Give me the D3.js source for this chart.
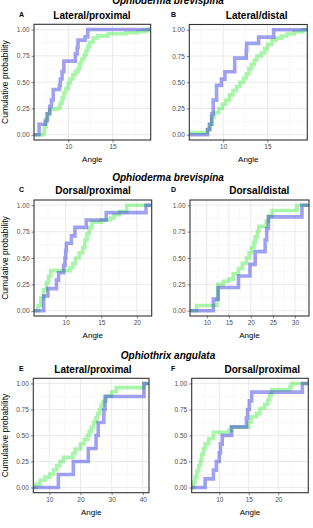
<!DOCTYPE html>
<html>
<head>
<meta charset="utf-8">
<script src="https://cdn.jsdelivr.net/npm/d3@7"></script>
<style>
  body { margin: 0; background: #fff; }
  text { font-family: "Liberation Sans", Arial, sans-serif; }
</style>
</head>
<body>
<div id="chart-area"></div>
<script>
// ---- data ----
var panelIds = ["A", "B", "C", "D", "E", "F"];
var panelTitles = ["Lateral/proximal", "Lateral/distal", "Dorsal/proximal", "Dorsal/distal", "Lateral/proximal", "Dorsal/proximal"];
var speciesTitles = ["Ophioderma brevispina", "Ophioderma brevispina", "Ophiothrix angulata"];
var xDomains = [[6.13, 19.3], [6.17, 19.5], [5.54, 22.1], [6.2, 33.2], [4.85, 42], [5.32, 25.1]];
var xTicks = [[10, 15], [10, 15], [10, 15, 20], [10, 15, 20, 25, 30], [10, 20, 30, 40], [10, 15, 20]];
var yTicks = [0, 0.25, 0.5, 0.75, 1];

// ECDF steps: [angle, cumulative probability]
var greenA = [[6.13,0],[7.2,0.02],[7.3,0.08],[7.5,0.15],[7.7,0.2],[7.9,0.24],[8.6,0.25],[9.0,0.27],[9.1,0.3],[9.3,0.35],[9.5,0.4],[9.7,0.44],[10.0,0.49],[10.2,0.53],[10.5,0.57],[10.8,0.6],[11.1,0.63],[11.3,0.68],[11.5,0.72],[11.8,0.76],[12.0,0.8],[12.2,0.84],[12.4,0.88],[12.8,0.92],[13.3,0.94],[14.5,0.96],[16.5,0.97],[17.8,0.98],[18.6,0.99],[19.0,1.0]];
var blueA = [[6.13,0],[6.7,0.1],[7.4,0.13],[7.6,0.2],[7.9,0.27],[8.1,0.33],[8.3,0.43],[9.0,0.47],[9.1,0.53],[9.3,0.6],[9.5,0.7],[10.8,0.77],[11.0,0.83],[11.1,0.9],[11.9,0.93],[12.2,1.0]];
var greenB = [[6.17,0.02],[8.2,0.05],[8.4,0.1],[8.7,0.17],[9.0,0.21],[9.5,0.25],[9.9,0.29],[10.3,0.33],[10.7,0.38],[11.1,0.42],[11.5,0.46],[11.9,0.5],[12.3,0.54],[12.6,0.58],[12.9,0.63],[13.2,0.67],[13.5,0.71],[13.8,0.75],[14.3,0.78],[14.7,0.82],[15.0,0.86],[15.5,0.9],[16.0,0.92],[16.6,0.94],[17.2,0.96],[18.0,0.98],[19.0,1.0]];
var blueB = [[6.17,0],[8.24,0.05],[8.5,0.1],[8.7,0.2],[8.87,0.33],[9.25,0.47],[9.8,0.53],[10.2,0.6],[11.3,0.73],[12.6,0.8],[12.65,0.87],[14.0,0.93],[15.7,1.0]];
var greenC = [[5.54,0],[6.1,0.05],[6.5,0.12],[6.9,0.2],[7.3,0.27],[7.6,0.33],[7.9,0.38],[10.6,0.41],[11.0,0.45],[11.4,0.5],[11.9,0.55],[12.4,0.6],[12.7,0.67],[13.0,0.73],[13.3,0.79],[13.7,0.84],[15.0,0.86],[16.3,0.88],[16.8,0.91],[17.6,0.94],[18.6,1.0]];
var blueC = [[5.54,0],[6.9,0.14],[7.5,0.21],[8.7,0.29],[9.0,0.36],[9.7,0.43],[9.9,0.5],[10.0,0.57],[10.1,0.64],[10.8,0.71],[11.3,0.79],[12.9,0.86],[15.7,0.93],[21.3,1.0]];
var greenD = [[6.2,0],[7.7,0.05],[12.3,0.1],[12.5,0.25],[13.8,0.28],[15.0,0.3],[16.0,0.35],[17.2,0.4],[18.1,0.45],[19.0,0.5],[19.6,0.55],[20.2,0.6],[20.7,0.65],[21.0,0.7],[21.5,0.75],[21.8,0.8],[23.5,0.85],[24.0,0.9],[24.8,0.95],[30.5,1.0]];
var blueD = [[6.2,0],[11.5,0.11],[12.6,0.22],[17.2,0.33],[19.8,0.44],[21.0,0.56],[23.25,0.67],[23.6,0.78],[24.0,0.89],[31.6,1.0]];
var greenE = [[4.85,0],[5.7,0.03],[7.0,0.07],[8.6,0.1],[10.2,0.13],[11.4,0.17],[12.4,0.21],[13.4,0.25],[14.5,0.29],[17.5,0.33],[18.3,0.37],[20.0,0.42],[21.2,0.46],[22.2,0.5],[22.8,0.54],[23.5,0.58],[24.2,0.63],[25.0,0.67],[25.5,0.71],[26.1,0.75],[26.6,0.79],[27.2,0.83],[28.2,0.88],[30.0,0.92],[31.5,0.96],[40.4,1.0]];
var blueE = [[4.85,0],[12.9,0.125],[17.7,0.25],[22.5,0.375],[25.0,0.5],[25.7,0.625],[27.5,0.75],[27.9,0.875],[40.4,1.0]];
var greenF = [[5.32,0],[5.6,0.05],[5.9,0.1],[6.2,0.16],[6.5,0.21],[6.8,0.26],[7.0,0.32],[7.3,0.37],[7.6,0.42],[8.2,0.47],[9.0,0.53],[11.6,0.55],[12.0,0.58],[15.0,0.63],[15.4,0.68],[16.3,0.71],[16.9,0.76],[17.7,0.8],[18.2,0.84],[18.5,0.89],[18.9,0.94],[22.0,0.97],[22.3,1.0]];
var blueF = [[5.32,0],[7.6,0.083],[9.0,0.167],[9.5,0.25],[10.0,0.333],[10.2,0.417],[10.5,0.5],[12.1,0.583],[14.6,0.667],[14.8,0.75],[15.1,0.833],[15.5,0.917],[24.1,1.0]];

var greenSeries = [greenA, greenB, greenC, greenD, greenE, greenF];
var blueSeries = [blueA, blueB, blueC, blueD, blueE, blueF];

// ---- layout ----
var width = 313, height = 528;
var boxes = [
  {l: 34, r: 150.7, t: 24.3, b: 140},
  {l: 189.3, r: 307.3, t: 24.5, b: 140},
  {l: 34, r: 151.7, t: 200, b: 316},
  {l: 190, r: 309, t: 200, b: 316},
  {l: 33.3, r: 149, t: 378.3, b: 492.7},
  {l: 191.7, r: 308.3, t: 378.3, b: 492.7}
];
var titleX = [92, 256.7, 93, 259.3, 93, 262.3];
var rowTitleY = [18.5, 194, 372.5];
var speciesY = [4, 180.5, 358.5];

var svg = d3.select("#chart-area")
  .append("svg")
  .attr("width", width)
  .attr("height", height);

speciesTitles.forEach(function (t, i) {
  svg.append("text")
    .attr("x", 168)
    .attr("y", speciesY[i])
    .attr("text-anchor", "middle")
    .attr("font-size", "10px")
    .attr("font-weight", "bold")
    .attr("font-style", "italic")
    .attr("fill", "#000")
    .text(t);
});

var line = d3.line().curve(d3.curveStepAfter);

panelIds.forEach(function (id, i) {
  var box = boxes[i];
  var row = Math.floor(i / 2), col = i % 2;
  var x = d3.scaleLinear().domain(xDomains[i]).range([box.l, box.r]);
  var y = d3.scaleLinear().domain([-0.05, 1.05]).range([box.b, box.t]);
  var g = svg.append("g");

  // grid, minor then major
  var xt = xTicks[i];
  var step = xt[1] - xt[0];
  var xMinor = d3.range(xt[0] - step * 1.5, xDomains[i][1] + step, step)
    .filter(function (v) { return v > xDomains[i][0] && v < xDomains[i][1]; });
  var yMinor = [0.125, 0.375, 0.625, 0.875];

  g.selectAll(".xminor").data(xMinor).enter().append("line")
    .attr("x1", function (d) { return x(d); }).attr("x2", function (d) { return x(d); })
    .attr("y1", box.t).attr("y2", box.b)
    .attr("stroke", "#f0f0f0").attr("stroke-width", 0.5);
  g.selectAll(".yminor").data(yMinor).enter().append("line")
    .attr("x1", box.l).attr("x2", box.r)
    .attr("y1", function (d) { return y(d); }).attr("y2", function (d) { return y(d); })
    .attr("stroke", "#f0f0f0").attr("stroke-width", 0.5);
  g.selectAll(".xmajor").data(xt).enter().append("line")
    .attr("x1", function (d) { return x(d); }).attr("x2", function (d) { return x(d); })
    .attr("y1", box.t).attr("y2", box.b)
    .attr("stroke", "#e4e4e4").attr("stroke-width", 0.8);
  g.selectAll(".ymajor").data(yTicks).enter().append("line")
    .attr("x1", box.l).attr("x2", box.r)
    .attr("y1", function (d) { return y(d); }).attr("y2", function (d) { return y(d); })
    .attr("stroke", "#e4e4e4").attr("stroke-width", 0.8);

  // ecdf lines
  var clipId = "clip" + id;
  svg.append("clipPath").attr("id", clipId)
    .append("rect")
    .attr("x", box.l).attr("y", box.t)
    .attr("width", box.r - box.l).attr("height", box.b - box.t);

  var lines = g.append("g").attr("clip-path", "url(#" + clipId + ")");
  [[greenSeries[i], "rgba(50,230,50,0.42)"], [blueSeries[i], "rgba(30,30,225,0.42)"]].forEach(function (s) {
    var pts = s[0].concat([[xDomains[i][1], s[0][s[0].length - 1][1]]]);
    lines.append("path")
      .attr("d", line(pts.map(function (d) { return [x(d[0]), y(d[1])]; })))
      .attr("fill", "none")
      .attr("stroke", s[1])
      .attr("stroke-width", 3.6);
  });

  // border
  g.append("rect")
    .attr("x", box.l).attr("y", box.t)
    .attr("width", box.r - box.l).attr("height", box.b - box.t)
    .attr("fill", "none").attr("stroke", "#333").attr("stroke-width", 1.1);

  // axes
  var bottomAxis = d3.axisBottom(x).tickValues(xt).tickSize(2.5).tickPadding(2).tickFormat(d3.format("d"));
  var ax = g.append("g")
    .attr("transform", "translate(0," + box.b + ")")
    .call(bottomAxis);
  ax.select(".domain").remove();
  ax.selectAll("line").attr("stroke", "#333").attr("stroke-width", 0.6);
  ax.selectAll("text").attr("fill", "#4d4d4d").attr("font-size", "6.5px")
    .attr("font-family", "Liberation Sans, Arial, sans-serif");

  var leftAxis = d3.axisLeft(y).tickValues(yTicks).tickSize(2.5).tickPadding(2).tickFormat(d3.format(".2f"));
  var ay = g.append("g")
    .attr("transform", "translate(" + box.l + ",0)")
    .call(leftAxis);
  ay.select(".domain").remove();
  ay.selectAll("line").attr("stroke", "#333").attr("stroke-width", 0.6);
  ay.selectAll("text").attr("fill", "#4d4d4d").attr("font-size", "6.5px")
    .attr("font-family", "Liberation Sans, Arial, sans-serif");

  // labels
  g.append("text")
    .attr("x", (box.l + box.r) / 2)
    .attr("y", box.b + 22)
    .attr("text-anchor", "middle")
    .attr("font-size", "8px")
    .attr("fill", "#000")
    .text("Angle");

  if (col === 0) {
    g.append("text")
      .attr("transform", "translate(7.5," + ((box.t + box.b) / 2) + ") rotate(-90)")
      .attr("text-anchor", "middle")
      .attr("font-size", "8.5px")
      .attr("fill", "#000")
      .text("Cumulative probability");
  }

  g.append("text")
    .attr("x", titleX[i])
    .attr("y", rowTitleY[row])
    .attr("text-anchor", "middle")
    .attr("font-size", "10px")
    .attr("font-weight", "bold")
    .attr("fill", "#000")
    .text(panelTitles[i]);

  g.append("text")
    .attr("x", col === 0 ? 19 : 171)
    .attr("y", rowTitleY[row] - 2)
    .attr("font-size", "7px")
    .attr("font-weight", "bold")
    .attr("fill", "#000")
    .text(id);
});
</script>
</body>
</html>
